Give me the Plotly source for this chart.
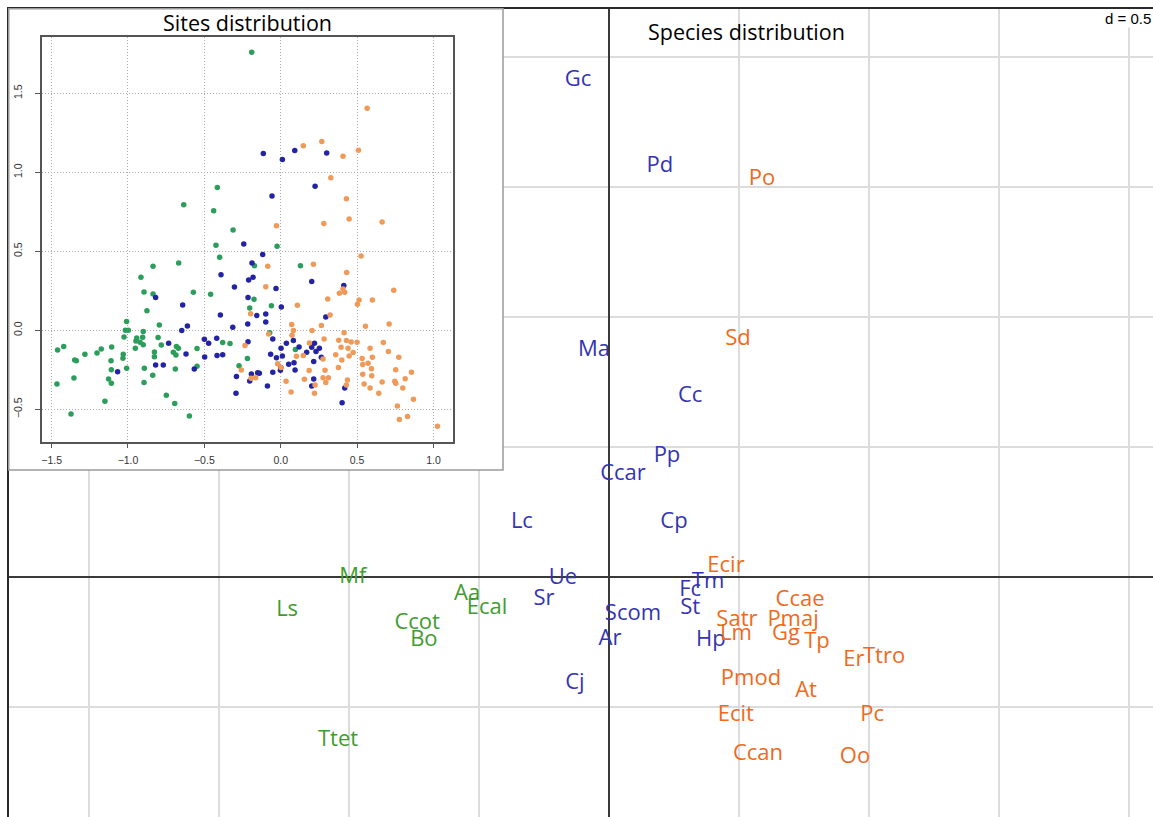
import plotly.graph_objects as go

# ---------------- Species distribution (main plot) ----------------
blue_species = ["Gc", "Pd", "Ma", "Cc", "Pp", "Ccar", "Lc", "Cp", "Ue", "Sr",
                "Tm", "Fc", "St", "Scom", "Ar", "Hp", "Cj"]
blue_x = [-0.119, 0.196, -0.058, 0.312, 0.223, 0.054, -0.335, 0.250, -0.177, -0.250,
          0.381, 0.312, 0.312, 0.092, 0.004, 0.392, -0.131]
blue_y = [1.911, 1.577, 0.873, 0.696, 0.465, 0.396, 0.211, 0.211, -0.004, -0.085,
          -0.020, -0.050, -0.120, -0.143, -0.239, -0.243, -0.408]

orange_species = ["Po", "Sd", "Ecir", "Ccae", "Satr", "Pmaj", "Lm", "Gg", "Tp", "Er",
                  "Ttro", "Pmod", "At", "Ecit", "Pc", "Ccan", "Oo"]
orange_x = [0.588, 0.496, 0.450, 0.735, 0.492, 0.708, 0.488, 0.681, 0.800, 0.942,
            1.058, 0.546, 0.758, 0.488, 1.012, 0.573, 0.946]
orange_y = [1.527, 0.915, 0.042, -0.089, -0.166, -0.166, -0.223, -0.223, -0.250, -0.320,
            -0.308, -0.393, -0.439, -0.531, -0.531, -0.681, -0.693]

green_species = ["Mf", "Ls", "Aa", "Ecal", "Ccot", "Bo", "Ttet"]
green_x = [-0.985, -1.238, -0.546, -0.469, -0.738, -0.712, -1.042]
green_y = [0.000, -0.127, -0.066, -0.123, -0.177, -0.243, -0.627]

# ---------------- Sites distribution (inset) ----------------
site_green_x = [-0.19, -0.415, -0.635, -0.439, -0.312, -0.424, -0.024, -0.400, -0.668, -0.836,
                -0.172, 0.129, -0.915, -0.895, -0.836, -0.572, -0.459, -0.876, -0.175, -0.203,
                -0.061, -1.009, -0.795, -1.017, -0.998, -1.026, -0.900, -0.943, -0.948, -0.921,
                -0.904, -0.900, -0.952, -0.803, -0.782, -0.827, -0.827, -0.683, -0.670, -0.703,
                -0.686, -0.690, -0.548, -0.548, -0.380, -0.332, -0.072, 0.096, -0.218, -0.273,
                -1.107, -1.175, -1.203, -1.111, -1.282, -1.349, -1.338, -1.421, -1.461, -1.465,
                -1.354, -1.109, -1.031, -1.033, -1.009, -1.127, -1.109, -0.893, -0.895, -0.838,
                -0.749, -0.694, -1.151, -1.373, -0.598]
site_green_y = [1.76, 0.903, 0.795, 0.757, 0.635, 0.538, 0.532, 0.462, 0.426, 0.405,
                0.409, 0.409, 0.335, 0.243, 0.230, 0.241, 0.228, 0.124, 0.196, 0.141,
                0.156, 0.055, 0.034, 0.0, 0.0, -0.042, -0.008, -0.049, -0.068, -0.076,
                -0.044, -0.091, -0.114, -0.046, -0.093, -0.137, -0.167, -0.103, -0.114, -0.139,
                -0.156, -0.245, -0.116, -0.228, -0.078, -0.084, -0.015, -0.122, -0.179, -0.224,
                -0.105, -0.118, -0.143, -0.192, -0.152, -0.188, -0.192, -0.103, -0.124, -0.340,
                -0.302, -0.249, -0.152, -0.177, -0.241, -0.308, -0.335, -0.241, -0.331, -0.285,
                -0.411, -0.464, -0.449, -0.530, -0.542]

site_blue_x = [-0.114, 0.092, 0.301, 0.011, 0.225, -0.057, -0.242, -0.118, -0.188, -0.391,
               -0.181, -0.210, -0.303, -0.031, 0.203, 0.413, -0.819, -0.214, -0.642, 0.004,
               -0.395, -0.157, -0.098, -0.098, 0.295, -0.216, -0.314, -0.611, -0.648, -0.500,
               -0.472, -0.419, -0.734, -0.214, -0.052, 0.083, 0.037, 0.002, 0.120, 0.203,
               0.221, 0.253, 0.231, 0.170, 0.216, 0.266, -0.066, -0.028, 0.011, 0.052,
               0.087, 0.094, 0.000, -0.002, -0.052, -0.498, -0.380, -0.620, -0.566, -0.417,
               -0.819, -0.769, -1.068, -0.290, -0.192, -0.140, -0.151, -0.203, -0.087, -0.293,
               0.216, 0.203, 0.419, 0.402]
site_blue_y = [1.118, 1.137, 1.122, 1.080, 0.911, 0.850, 0.546, 0.479, 0.426, 0.352,
               0.335, 0.319, 0.274, 0.264, 0.308, 0.283, 0.207, 0.207, 0.160, 0.148,
               0.097, 0.093, 0.103, 0.053, 0.084, 0.040, 0.019, 0.027, -0.002, -0.057,
               -0.082, -0.051, -0.082, -0.072, -0.055, -0.065, -0.082, -0.114, -0.105, -0.108,
               -0.082, -0.114, -0.135, -0.139, -0.198, -0.171, -0.152, -0.173, -0.162, -0.215,
               -0.205, -0.251, -0.236, -0.253, -0.266, -0.169, -0.154, -0.150, -0.245, -0.160,
               -0.219, -0.219, -0.262, -0.293, -0.276, -0.272, -0.268, -0.321, -0.352, -0.399,
               -0.308, -0.352, -0.365, -0.458]

site_orange_x = [0.566, 0.148, 0.269, 0.509, 0.408, 0.328, 0.430, 0.448, 0.664, 0.282,
                 -0.028, 0.526, 0.214, -0.085, 0.432, -0.098, 0.408, 0.419, 0.384, 0.740,
                 0.308, 0.513, 0.600, 0.502, 0.109, -0.197, 0.323, 0.710, 0.555, 0.266,
                 0.072, 0.083, 0.205, 0.415, 0.074, -0.079, 0.284, 0.380, 0.430, 0.461,
                 0.500, 0.672, 0.188, 0.395, 0.441, 0.585, 0.705, 0.360, 0.448, 0.600,
                 0.533, 0.400, 0.148, 0.103, 0.277, 0.572, 0.537, 0.773, 0.378, 0.594,
                 0.753, 0.856, 0.186, 0.290, -0.020, 0.002, -0.234, -0.258, -0.164, -0.194,
                 0.035, 0.155, 0.277, 0.312, 0.295, 0.437, 0.430, 0.537, 0.546, 0.596,
                 0.585, 0.664, 0.642, 0.747, 0.753, 0.815, 0.799, 0.225, 0.221, 0.068,
                 0.869, 0.764, 0.777, 0.830, 1.026, 0.474]
site_orange_y = [1.405, 1.167, 1.194, 1.139, 1.101, 0.966, 0.833, 0.705, 0.686, 0.675,
                 0.662, 0.470, 0.418, 0.405, 0.365, 0.276, 0.262, 0.241, 0.234, 0.253,
                 0.198, 0.192, 0.192, 0.165, 0.158, 0.105, 0.097, 0.040, 0.025, 0.030,
                 0.036, -0.002, -0.002, -0.015, -0.032, -0.023, -0.055, -0.063, -0.065, -0.074,
                 -0.076, -0.078, -0.080, -0.108, -0.114, -0.114, -0.135, -0.154, -0.162, -0.171,
                 -0.179, -0.188, -0.160, -0.165, -0.181, -0.209, -0.217, -0.171, -0.236, -0.243,
                 -0.249, -0.266, -0.255, -0.253, -0.211, -0.236, -0.097, -0.251, -0.300, -0.304,
                 -0.323, -0.310, -0.300, -0.300, -0.331, -0.314, -0.346, -0.278, -0.340, -0.287,
                 -0.365, -0.327, -0.399, -0.323, -0.335, -0.306, -0.365, -0.346, -0.399, -0.390,
                 -0.437, -0.479, -0.565, -0.546, -0.608, -0.141]

inset_x_ticks = [-1.5, -1.0, -0.5, 0.0, 0.5, 1.0]
inset_y_ticks = [-0.5, 0.0, 0.5, 1.0, 1.5]

# ---------------- layout geometry (screen pixels) ----------------
W, H = 1153, 817
ML, MT = 9, 9                  # main plot area starts here (frame line just outside)
PW, PH = W - ML, H - MT
ORIGIN = (609, 577)            # pixel of (0, 0) in the main plot
UNIT = 260                     # pixels per unit (grid cell d = 0.5 -> 130 px)
X_RANGE = [(ML - ORIGIN[0]) / UNIT, (W - ORIGIN[0]) / UNIT]
Y_RANGE = [(ORIGIN[1] - H) / UNIT, (ORIGIN[1] - MT) / UNIT]


def px_to_paper_x(px):
    return (px - ML) / PW


def py_to_paper_y(py):
    return (H - py) / PH


def px_to_data_x(px):
    return (px - ORIGIN[0]) / UNIT


def py_to_data_y(py):
    return (ORIGIN[1] - py) / UNIT


INSET_BOX = (8, 8, 503, 470)             # outer box: left, top, right, bottom
INSET_PLOT = (41.7, 37.3, 453.3, 441.7)  # inner plot area

BLUE = "#3434b2"
ORANGE = "#f06a1c"
GREEN = "#3e9d2e"
FONT = "Open Sans"

fig = go.Figure()

# white panel behind the inset (hides the main grid lines there)
bx0 = X_RANGE[0] - 0.2
bx1 = px_to_data_x(INSET_BOX[2])
by0 = py_to_data_y(INSET_BOX[3])
by1 = Y_RANGE[1] + 0.2
fig.add_trace(go.Scatter(x=[bx0, bx1, bx1, bx0, bx0], y=[by0, by0, by1, by1, by0],
                         mode="lines", fill="toself", fillcolor="white",
                         line=dict(width=0, color="white"), hoverinfo="skip",
                         showlegend=False, xaxis="x", yaxis="y"))

for names, xs, ys, col in [(blue_species, blue_x, blue_y, BLUE),
                           (orange_species, orange_x, orange_y, ORANGE),
                           (green_species, green_x, green_y, GREEN)]:
    fig.add_trace(go.Scatter(x=xs, y=ys, text=names, mode="text",
                             textposition="middle center",
                             textfont=dict(family=FONT, size=22, color=col),
                             showlegend=False, xaxis="x", yaxis="y"))

for xs, ys, col in [(site_green_x, site_green_y, "#2a9e5a"),
                    (site_blue_x, site_blue_y, "#2323a6"),
                    (site_orange_x, site_orange_y, "#f09a5a")]:
    fig.add_trace(go.Scatter(x=xs, y=ys, mode="markers",
                             marker=dict(size=5.5, color=col, line=dict(width=0)),
                             showlegend=False, xaxis="x2", yaxis="y2"))

ix0 = px_to_paper_x(INSET_PLOT[0])
ix1 = px_to_paper_x(INSET_PLOT[2])
iy0 = py_to_paper_y(INSET_PLOT[3])
iy1 = py_to_paper_y(INSET_PLOT[1])
inset_xr = [-1.565, 1.130]
inset_yr = [-0.705, 1.854]

fig.update_layout(
    width=W, height=H,
    margin=dict(l=ML, r=0, t=MT, b=0, pad=0),
    paper_bgcolor="white", plot_bgcolor="white",
    xaxis=dict(domain=[0, 1], range=X_RANGE, dtick=0.5, tick0=0,
               showgrid=True, gridcolor="#dcdcdc", gridwidth=1.5,
               zeroline=True, zerolinecolor="#3a3a3a", zerolinewidth=2,
               showticklabels=False, ticks="", side="top",
               showline=True, linecolor="#2a2a2a", linewidth=2,
               layer="below traces", fixedrange=True),
    yaxis=dict(domain=[0, 1], range=Y_RANGE, dtick=0.5, tick0=0,
               showgrid=True, gridcolor="#dcdcdc", gridwidth=1.5,
               zeroline=True, zerolinecolor="#3a3a3a", zerolinewidth=2,
               showticklabels=False, ticks="", side="left",
               showline=True, linecolor="#2a2a2a", linewidth=2,
               layer="below traces", fixedrange=True),
    xaxis2=dict(domain=[ix0, ix1], anchor="y2", range=inset_xr,
                tickvals=inset_x_ticks, tickformat=".1f",
                ticks="outside", ticklen=5, tickcolor="#555", tickwidth=1,
                showline=True, mirror=True, linecolor="#555", linewidth=1.5,
                showgrid=True, gridcolor="#aaaaaa", griddash="1px,2px", gridwidth=1,
                zeroline=False, ticklabelstandoff=3, fixedrange=True,
                tickfont=dict(family="Arial", size=10.5, color="#333")),
    yaxis2=dict(domain=[iy0, iy1], anchor="x2", range=inset_yr,
                tickvals=inset_y_ticks, tickformat=".1f", tickangle=-90,
                ticks="outside", ticklen=5, tickcolor="#555", tickwidth=1,
                showline=True, mirror=True, linecolor="#555", linewidth=1.5,
                showgrid=True, gridcolor="#aaaaaa", griddash="1px,2px", gridwidth=1,
                zeroline=False, ticklabelstandoff=9, fixedrange=True,
                tickfont=dict(family="Arial", size=10.5, color="#333")),
    shapes=[dict(type="rect", xref="paper", yref="paper",
                 x0=px_to_paper_x(INSET_BOX[0] + 0.75), x1=px_to_paper_x(INSET_BOX[2]),
                 y0=py_to_paper_y(INSET_BOX[3]), y1=py_to_paper_y(INSET_BOX[1] + 0.75),
                 line=dict(color="#9a9a9a", width=1.5), fillcolor="rgba(0,0,0,0)",
                 layer="above")],
    annotations=[
        dict(text="Sites distribution", xref="paper", yref="paper",
             x=(ix0 + ix1) / 2, y=py_to_paper_y(22), xanchor="center", yanchor="middle",
             showarrow=False, font=dict(family=FONT, size=21.5, color="black")),
        dict(text="Species distribution", xref="paper", yref="paper",
             x=px_to_paper_x(746), y=py_to_paper_y(31), xanchor="center", yanchor="middle",
             showarrow=False, font=dict(family=FONT, size=21.5, color="black")),
        dict(text="d = 0.5", xref="paper", yref="paper",
             x=px_to_paper_x(1152), y=py_to_paper_y(18), xanchor="right", yanchor="middle",
             showarrow=False, bgcolor="white", borderpad=0,
             font=dict(family="Arial", size=15, color="black")),
    ],
)

# remove the browser's default 8px page margin so the figure fills the window
fig.write_html("out.html", config={"displayModeBar": False},
               post_script="document.body.style.margin='0';")
